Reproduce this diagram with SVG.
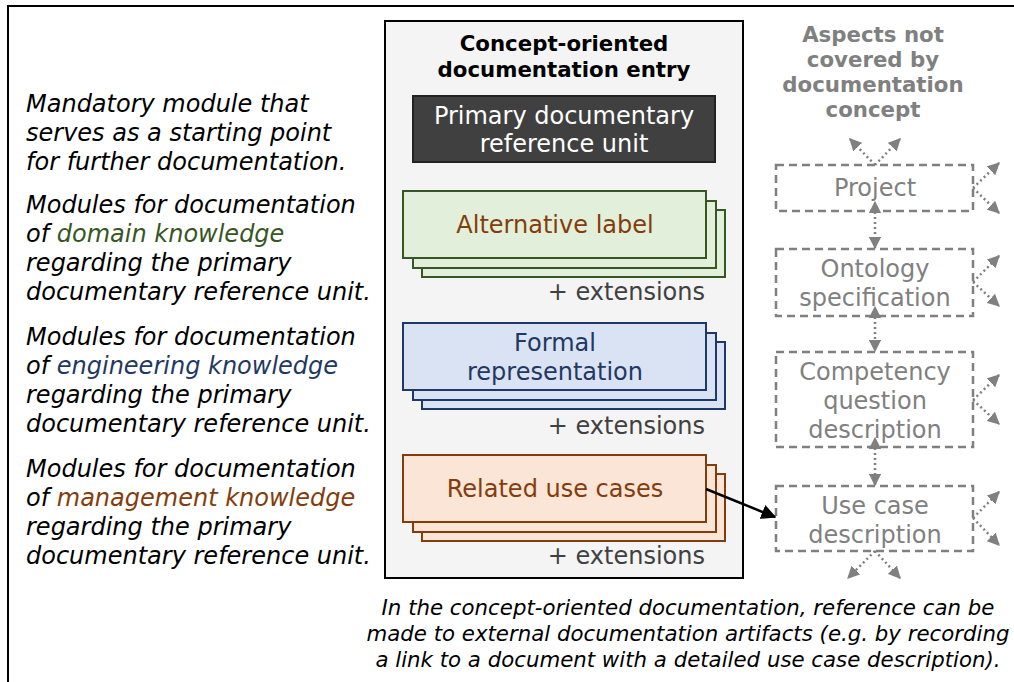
<svg xmlns="http://www.w3.org/2000/svg" width="1014" height="682" viewBox="0 0 1014 682">
<defs>
<style>
text{font-family:"DejaVu Sans","Liberation Sans",sans-serif;}
.it{font-style:italic;font-size:24px;fill:#000;}
.bt{font-style:italic;font-size:21.3px;fill:#000;}
.bx{font-size:24px;text-anchor:middle;}
.ttl{font-weight:bold;font-size:21.3px;text-anchor:middle;}
.gr{fill:#808080;}
.dash{fill:none;stroke:#808080;stroke-width:2.5;stroke-dasharray:8,5;}
.dot{fill:none;stroke:#808080;stroke-width:2.5;stroke-dasharray:2,3;marker-end:url(#ga);}
.dot2{fill:none;stroke:#808080;stroke-width:2.5;stroke-dasharray:2,3;marker-start:url(#gs);marker-end:url(#ga);}
.ext{font-size:24px;fill:#404040;text-anchor:end;}
.grn{fill:#e2efda;stroke:#375623;stroke-width:2;}
.blu{fill:#dae3f3;stroke:#1f3864;stroke-width:2;}
.org{fill:#fbe5d6;stroke:#843c0c;stroke-width:2;}
</style>
<marker id="ga" viewBox="0 0 10 10" refX="9" refY="5" markerWidth="5" markerHeight="5" orient="auto" markerUnits="strokeWidth"><path d="M0,0 L10,5 L0,10 z" fill="#808080"/></marker>
<marker id="gs" viewBox="0 0 10 10" refX="1" refY="5" markerWidth="5" markerHeight="5" orient="auto-start-reverse" markerUnits="strokeWidth"><path d="M0,0 L10,5 L0,10 z" fill="#808080"/></marker>
<marker id="ka" viewBox="0 0 10 10" refX="9" refY="5" markerWidth="6" markerHeight="6" orient="auto" markerUnits="strokeWidth"><path d="M0,0 L10,5 L0,10 z" fill="#000"/></marker>
</defs>
<rect x="0" y="0" width="1014" height="682" fill="#fff"/>
<rect x="8" y="6" width="1030" height="700" fill="none" stroke="#000" stroke-width="2"/>

<g id="left-text">
<text class="it" x="26" y="112">Mandatory module that</text>
<text class="it" x="26" y="141">serves as a starting point</text>
<text class="it" x="26" y="170">for further documentation.</text>
<text class="it" x="26" y="213">Modules for documentation</text>
<text class="it" x="26" y="242">of <tspan fill="#375623">domain knowledge</tspan></text>
<text class="it" x="26" y="271">regarding the primary</text>
<text class="it" x="26" y="300">documentary reference unit.</text>
<text class="it" x="26" y="345">Modules for documentation</text>
<text class="it" x="26" y="374">of <tspan fill="#1f3864">engineering knowledge</tspan></text>
<text class="it" x="26" y="403">regarding the primary</text>
<text class="it" x="26" y="432">documentary reference unit.</text>
<text class="it" x="26" y="477">Modules for documentation</text>
<text class="it" x="26" y="506">of <tspan fill="#843c0c">management knowledge</tspan></text>
<text class="it" x="26" y="535">regarding the primary</text>
<text class="it" x="26" y="564">documentary reference unit.</text>
</g>

<g id="entry">
<rect x="385" y="21" width="358" height="557" fill="#f4f4f4" stroke="#000" stroke-width="2"/>
<text class="ttl" x="564" y="51">Concept-oriented</text>
<text class="ttl" x="564" y="77">documentation entry</text>
</g>

<g id="primary">
<rect x="413" y="96" width="302" height="66" fill="#404040" stroke="#222" stroke-width="2"/>
<text class="bx" x="564" y="124" fill="#fff">Primary documentary</text>
<text class="bx" x="564" y="152" fill="#fff">reference unit</text>
</g>

<g id="alt-label">
<rect class="grn" x="422" y="210" width="303" height="67"/>
<rect class="grn" x="413" y="201" width="303" height="67"/>
<rect class="grn" x="403" y="191" width="303" height="67"/>
<text class="bx" x="555" y="233" fill="#843c0c">Alternative label</text>
<text class="ext" x="705" y="300">+ extensions</text>
</g>

<g id="formal">
<rect class="blu" x="422" y="342" width="303" height="67"/>
<rect class="blu" x="413" y="333" width="303" height="67"/>
<rect class="blu" x="403" y="323" width="303" height="67"/>
<text class="bx" x="555" y="351" fill="#1f3864">Formal</text>
<text class="bx" x="555" y="380" fill="#1f3864">representation</text>
<text class="ext" x="705" y="434">+ extensions</text>
</g>

<g id="related">
<rect class="org" x="422" y="474" width="303" height="67"/>
<rect class="org" x="413" y="465" width="303" height="67"/>
<rect class="org" x="403" y="455" width="303" height="67"/>
<text class="bx" x="555" y="497" fill="#843c0c">Related use cases</text>
<text class="ext" x="705" y="564">+ extensions</text>
</g>

<g id="aspects-title">
<text class="ttl gr" x="873" y="42">Aspects not</text>
<text class="ttl gr" x="873" y="67">covered by</text>
<text class="ttl gr" x="873" y="92">documentation</text>
<text class="ttl gr" x="873" y="117">concept</text>
</g>

<g id="project">
<rect class="dash" x="776" y="165" width="197" height="46"/>
<text class="bx gr" x="875" y="196">Project</text>
</g>
<g id="ontology">
<rect class="dash" x="776" y="249" width="197" height="67"/>
<text class="bx gr" x="875" y="277">Ontology</text>
<text class="bx gr" x="875" y="306">specification</text>
</g>
<g id="competency">
<rect class="dash" x="776" y="352" width="197" height="95"/>
<text class="bx gr" x="875" y="380">Competency</text>
<text class="bx gr" x="875" y="409">question</text>
<text class="bx gr" x="875" y="438">description</text>
</g>
<g id="usecase">
<rect class="dash" x="776" y="486" width="197" height="65"/>
<text class="bx gr" x="875" y="514">Use case</text>
<text class="bx gr" x="875" y="543">description</text>
</g>

<g id="connectors">
<line x1="706" y1="489" x2="775" y2="517" stroke="#000" stroke-width="2.5" marker-end="url(#ka)"/>
<line class="dot" x1="875" y1="165" x2="850" y2="139"/>
<line class="dot" x1="875" y1="165" x2="900" y2="139"/>
<line class="dot" x1="973" y1="188" x2="999" y2="163"/>
<line class="dot" x1="973" y1="188" x2="999" y2="213"/>
<line class="dot" x1="973" y1="282" x2="999" y2="256"/>
<line class="dot" x1="973" y1="282" x2="999" y2="306"/>
<line class="dot" x1="973" y1="400" x2="999" y2="375"/>
<line class="dot" x1="973" y1="400" x2="999" y2="424"/>
<line class="dot" x1="973" y1="518" x2="999" y2="492"/>
<line class="dot" x1="973" y1="518" x2="999" y2="545"/>
<line class="dot" x1="875" y1="551" x2="848" y2="578"/>
<line class="dot" x1="875" y1="551" x2="900" y2="578"/>
<line class="dot2" x1="875" y1="212" x2="875" y2="248"/>
<line class="dot2" x1="875" y1="317" x2="875" y2="351"/>
<line class="dot2" x1="875" y1="448" x2="875" y2="485"/>
</g>

<g id="note">
<text class="bt" x="688" y="615" text-anchor="middle">In the concept-oriented documentation, reference can be</text>
<text class="bt" x="688" y="641" text-anchor="middle">made to external documentation artifacts (e.g. by recording</text>
<text class="bt" x="688" y="667" text-anchor="middle">a link to a document with a detailed use case description).</text>
</g>
</svg>
